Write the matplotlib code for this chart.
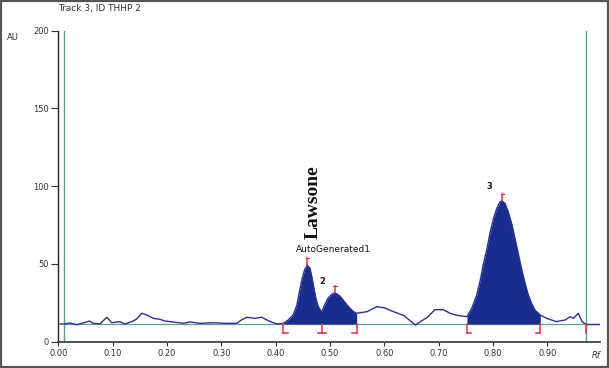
import matplotlib
matplotlib.use("Agg")
import matplotlib.pyplot as plt
from matplotlib.patches import Rectangle
import numpy as np

# ---- data ----
rf = [0.003, 0.010, 0.021, 0.034, 0.043, 0.057, 0.064, 0.076, 0.089, 0.098,
      0.113, 0.122, 0.135, 0.144, 0.153, 0.162, 0.175, 0.187, 0.196, 0.211,
      0.230, 0.242, 0.261, 0.285, 0.310, 0.328, 0.337, 0.347, 0.362, 0.374,
      0.390, 0.402,
      0.414, 0.423, 0.432, 0.439, 0.443, 0.448, 0.453, 0.458, 0.463, 0.467,
      0.472, 0.477, 0.482, 0.485, 0.490, 0.496, 0.503, 0.509, 0.518, 0.524,
      0.534, 0.543, 0.549,
      0.568, 0.586, 0.600, 0.614, 0.636, 0.657, 0.668, 0.679, 0.693, 0.708,
      0.722, 0.736,
      0.752, 0.761, 0.770, 0.776, 0.782, 0.789, 0.795, 0.801, 0.807, 0.813,
      0.817, 0.822, 0.828, 0.835, 0.841, 0.847, 0.853, 0.859, 0.865, 0.871,
      0.877, 0.887,
      0.899, 0.917, 0.933, 0.942, 0.948, 0.957, 0.964, 0.970]
au = [11.4, 11.4, 12.0, 10.9, 11.8, 13.3, 11.8, 11.4, 15.7, 12.2,
      12.9, 11.4, 12.9, 14.6, 18.3, 17.2, 15.0, 14.4, 13.3, 12.7,
      11.8, 12.7, 11.8, 12.2, 11.8, 11.8, 14.0, 15.7, 15.0, 15.7,
      12.9, 11.4,
      11.8, 14.0, 17.2, 23.6, 31.1, 39.7, 46.1, 49.3, 47.2, 40.8,
      31.1, 23.6, 20.4, 19.3, 23.6, 27.9, 30.5, 31.5, 29.4, 26.8,
      22.5, 19.3, 18.3,
      19.3, 22.5, 21.8, 19.7, 16.8, 10.7, 13.3, 15.6, 20.6, 20.6,
      18.1, 16.8,
      16.1, 21.5, 30.0, 38.6, 49.3, 60.1, 70.7, 79.4, 85.8, 90.0,
      90.5, 89.0, 83.6, 75.0, 65.4, 55.8, 46.1, 37.6, 30.0, 24.7,
      20.4, 17.2,
      15.0, 12.9, 14.0, 16.1, 15.0, 18.3, 12.9, 11.4]

baseline_au = 11.4
peak_ranges = [(0.414, 0.549), (0.752, 0.887)]
boundaries = [0.414, 0.485, 0.549, 0.752, 0.887, 0.971]
boundary_feet = ["right", "both", "left", "right", "left", "none"]
peak_tops = [(0.458, 49.3), (0.509, 31.5), (0.817, 90.5)]
peak_labels = [("AutoGenerated1", 0.506, 59.0), ("2", 0.486, 39.0), ("3", 0.793, 99.5)]

x_ticks = [0.0, 0.1, 0.2, 0.3, 0.4, 0.5, 0.6, 0.7, 0.8, 0.9]
x_tick_labels = ["0.00", "0.10", "0.20", "0.30", "0.40", "0.50", "0.60", "0.70", "0.80", "0.90"]
y_ticks = [0, 50, 100, 150, 200]
y_tick_labels = ["0", "50", "100", "150", "200"]

navy = "#2b3190"
fill_col = "#1b2c8f"
teal = "#5f9c9a"
red = "#e0304a"

fig = plt.figure(figsize=(6.09, 3.68), dpi=100)
ax = fig.add_axes([58.5 / 609, (368 - 341.7) / 368, (600 - 58.5) / 609, (341.7 - 30.7) / 368])
ax.set_xlim(0, 0.997)
ax.set_ylim(0, 200)

x = np.array(rf)
y = np.array(au)

# teal guide lines
ax.plot([0.010, 0.010], [0, 200], color=teal, lw=1.0, zorder=1)
ax.plot([0.971, 0.971], [0, 200], color=teal, lw=1.0, zorder=1)
ax.plot([0.010, 0.997], [baseline_au, baseline_au], color=teal, lw=0.9, zorder=1)
ax.plot([0.971, 0.997], [baseline_au, baseline_au], color=navy, lw=1.0, zorder=2)

# filled peaks
for a, b in peak_ranges:
    m = (x >= a - 1e-9) & (x <= b + 1e-9)
    ax.fill_between(x[m], baseline_au, y[m], color=fill_col, lw=0, zorder=2)

ax.plot(x, y, color=navy, lw=1.0, zorder=3)

# red integration markers
for bpos, foot in zip(boundaries, boundary_feet):
    low = baseline_au - 5.5
    ax.plot([bpos, bpos], [baseline_au, low], color=red, lw=1.1, zorder=4)
    fl = 0.008
    if foot in ("right", "both"):
        ax.plot([bpos, bpos + fl], [low, low], color=red, lw=1.1, zorder=4)
    if foot in ("left", "both"):
        ax.plot([bpos - fl, bpos], [low, low], color=red, lw=1.1, zorder=4)
for px, py in peak_tops:
    ax.plot([px, px], [py, py + 4.5], color=red, lw=1.1, zorder=4)
    ax.plot([px - 0.003, px + 0.003], [py + 4.5, py + 4.5], color=red, lw=0.8, zorder=4)

for txt, tx, ty in peak_labels:
    ax.text(tx, ty, txt, fontsize=6.5 if len(txt) > 1 else 6, ha="center", va="center",
            color="#111111", family="DejaVu Sans",
            fontweight="normal" if len(txt) > 1 else "bold")

ax.text(0.469, 89.8, "Lawsone", rotation=90, fontsize=14, fontweight="bold",
        family="Liberation Serif", ha="center", va="center", color="#111111")

# axes styling
for s in ("top", "right"):
    ax.spines[s].set_visible(False)
ax.spines["left"].set_color("#222222")
ax.spines["left"].set_linewidth(1.0)
ax.spines["bottom"].set_color("#444444")
ax.spines["bottom"].set_linewidth(1.3)
ax.set_xticks(x_ticks)
ax.set_xticklabels(x_tick_labels)
ax.set_yticks(y_ticks)
ax.set_yticklabels(y_tick_labels)
ax.tick_params(axis="y", direction="out", length=5, width=0.8, labelsize=6,
               colors="#333333", pad=2)
ax.tick_params(axis="x", direction="out", length=3, width=0.8, labelsize=6,
               colors="#333333", pad=2)
ax.patch.set_alpha(0)

fig.text(58 / 609, 1 - 8 / 368, "Track 3, ID THHP 2", fontsize=6.5, color="#333333",
         ha="left", va="center")
fig.text(13 / 609, 1 - 38 / 368, "AU", fontsize=6, color="#333333", ha="center", va="center")
fig.text(596 / 609, 1 - 356 / 368, "Rf", fontsize=6, color="#333333", ha="center",
         va="center", style="italic")

# outer frame
fig.patches.append(Rectangle((0.002, 0.003), 0.996, 0.994, transform=fig.transFigure,
                             fill=False, edgecolor="#555555", lw=1.6))

fig.savefig("out.png", dpi=100)
